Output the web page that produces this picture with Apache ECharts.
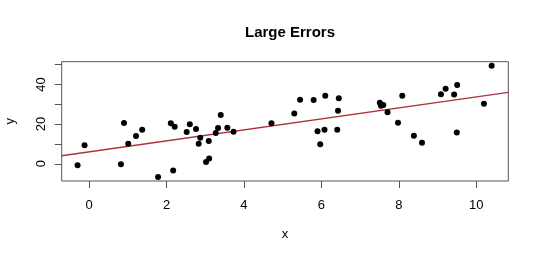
<!DOCTYPE html>
<html>
<head>
<meta charset="utf-8">
<script src="https://cdn.jsdelivr.net/npm/echarts@6/dist/echarts.min.js"></script>
<style>html,body{margin:0;padding:0;background:#fff;}#c{width:540px;height:258px;}</style>
</head>
<body>
<div id="c"></div>
<script>
const pointX = [-0.30, -0.12, 0.90, 0.82, 1.01, 1.21, 1.37, 1.78, 2.11, 2.21, 2.17, 2.52, 2.60, 2.76, 2.87, 2.83, 3.09, 3.02, 3.10, 3.27, 3.33, 3.40, 3.57, 3.73,
  4.71, 5.30, 5.45, 5.80, 6.10, 6.45, 6.43, 5.90, 6.08, 5.97, 6.41, 7.51, 7.54, 7.60, 7.71, 8.09, 7.98, 8.39, 8.60, 9.09, 9.21, 9.43, 9.51, 9.50, 10.20, 10.40];
const pointY = [-0.8, 9.4, 20.6, -0.2, 10.1, 14.0, 17.2, -6.7, 20.4, 18.7, -3.4, 16.0, 19.9, 17.5, 13.1, 10.1, 11.5, 0.9, 2.7, 15.5, 18.0, 24.6, 18.2, 16.2,
  20.4, 25.3, 32.3, 32.2, 34.3, 33.0, 26.8, 16.4, 17.2, 9.9, 17.2, 30.8, 29.3, 29.6, 26.0, 34.3, 20.7, 14.1, 10.6, 35.1, 37.9, 34.9, 39.7, 15.8, 30.3, 49.5];
const fitX = [-0.71, 10.83];
const fitY = [4.04, 36.06];
const xTicks = [0, 2, 4, 6, 8, 10];
const yTicks = [0, 10, 20, 30, 40, 50];
const yLabels = [0, 20, 40];

const FONT = 'Liberation Sans, Arial, Helvetica, sans-serif';
const chart = echarts.init(document.getElementById('c'), null, {renderer: 'canvas'});
chart.setOption({
  animation: false,
  backgroundColor: '#fff',
  title: {
    text: 'Large Errors', left: 285, top: 20, textAlign: 'center',
    textStyle: {fontFamily: FONT, fontSize: 15, fontWeight: 'bold', color: '#000'}
  },
  grid: {left: 61.7, top: 61.7, right: 31.7, bottom: 77, show: true, borderColor: '#555', borderWidth: 1,
         backgroundColor: 'transparent', containLabel: false, outerBoundsMode: 'none'},
  xAxis: {
    type: 'value', min: -0.71, max: 10.83,
    name: 'x', nameLocation: 'middle', nameGap: 47,
    nameTextStyle: {fontFamily: FONT, fontSize: 13, color: '#000'},
    axisLine: {show: false, onZero: false},
    axisTick: {show: true, customValues: xTicks, length: 7, lineStyle: {color: '#555'}},
    axisLabel: {customValues: xTicks, margin: 18, fontFamily: FONT, fontSize: 13, color: '#000'},
    splitLine: {show: false}
  },
  yAxis: {
    type: 'value', min: -8.7, max: 51.5,
    name: 'y', nameLocation: 'middle', nameGap: 45, nameRotate: 90,
    nameTextStyle: {fontFamily: FONT, fontSize: 13, color: '#000'},
    axisLine: {show: false, onZero: false},
    axisTick: {show: true, customValues: yTicks, length: 7, lineStyle: {color: '#555'}},
    axisLabel: {customValues: yLabels, rotate: 90, margin: 14, fontFamily: FONT, fontSize: 13, color: '#000'},
    splitLine: {show: false}
  },
  series: [
    {
      type: 'scatter', symbol: 'circle', symbolSize: 6,
      itemStyle: {color: '#000', opacity: 1},
      data: pointX.map((x, i) => [x, pointY[i]]),
      z: 3
    },
    {
      type: 'line', symbol: 'none', silent: true,
      lineStyle: {color: '#b0303c', width: 1.3},
      data: fitX.map((x, i) => [x, fitY[i]]),
      z: 2
    }
  ]
});
</script>
</body>
</html>
